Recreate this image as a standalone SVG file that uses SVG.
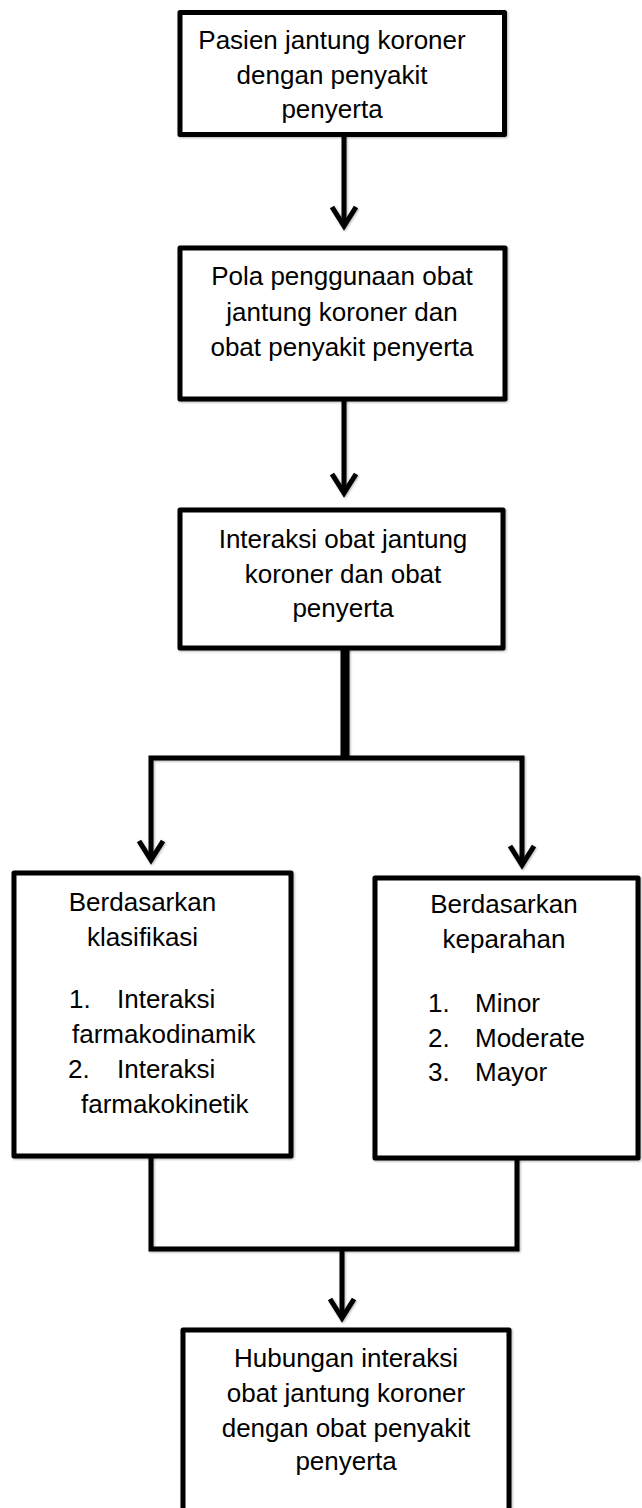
<svg xmlns="http://www.w3.org/2000/svg" width="642" height="1508" viewBox="0 0 642 1508">
  <style>
    .box { fill: #ffffff; stroke: #000000; stroke-width: 5; stroke-linejoin: round; }
    .conn { fill: none; stroke: #000000; stroke-width: 5; stroke-linejoin: miter; }
    .thick { stroke-width: 9; }
    text { font-family: "Liberation Sans", Arial, sans-serif; font-size: 26px; fill: #000000; }
    .c { text-anchor: middle; }
  </style>
  <defs>
    <filter id="sh" x="-10%" y="-10%" width="120%" height="120%">
      <feDropShadow dx="1" dy="1" stdDeviation="1.2" flood-color="#000000" flood-opacity="0.3"/>
    </filter>
    <marker id="chev" markerUnits="userSpaceOnUse" viewBox="-26 -18 34 36" refX="0" refY="0" markerWidth="34" markerHeight="36" orient="auto">
      <path d="M-19,-12 L0,0 L-19,12" fill="none" stroke="#000000" stroke-width="5" stroke-linejoin="miter" stroke-miterlimit="10"/>
    </marker>
  </defs>

  <g id="connectors" filter="url(#sh)">
    <path class="conn" d="M344,136 V226" marker-end="url(#chev)"/>
    <path class="conn" d="M344,399 V493" marker-end="url(#chev)"/>
    <path class="conn thick" d="M345,648 V758"/>
    <path class="conn" d="M151,859 V758 H522 V864"/>
    <path class="conn" d="M151,859 V860" marker-end="url(#chev)"/>
    <path class="conn" d="M522,864 V865" marker-end="url(#chev)"/>
    <path class="conn" d="M151,1156 V1249 H517 V1158"/>
    <path class="conn" d="M342,1249 V1318" marker-end="url(#chev)"/>
  </g>

  <g id="node1">
    <rect class="box" filter="url(#sh)" x="180" y="12.5" width="324.5" height="122"/>
    <text class="c" x="332" y="49">Pasien jantung koroner</text>
    <text class="c" x="332" y="84">dengan penyakit</text>
    <text class="c" x="332" y="118">penyerta</text>
  </g>

  <g id="node2">
    <rect class="box" filter="url(#sh)" x="180" y="248" width="325" height="151"/>
    <text class="c" x="342" y="285">Pola penggunaan obat</text>
    <text class="c" x="342" y="321">jantung koroner dan</text>
    <text class="c" x="342" y="356">obat penyakit penyerta</text>
  </g>

  <g id="node3">
    <rect class="box" filter="url(#sh)" x="180" y="510" width="323" height="138"/>
    <text class="c" x="343" y="548">Interaksi obat jantung</text>
    <text class="c" x="343" y="583">koroner dan obat</text>
    <text class="c" x="343" y="617">penyerta</text>
  </g>

  <g id="node4">
    <rect class="box" filter="url(#sh)" x="14" y="873" width="277" height="283"/>
    <text class="c" x="142.5" y="911">Berdasarkan</text>
    <text class="c" x="142.5" y="946">klasifikasi</text>
    <text x="69" y="1008">1.</text>
    <text x="117" y="1008">Interaksi</text>
    <text x="72" y="1043">farmakodinamik</text>
    <text x="68" y="1078">2.</text>
    <text x="117" y="1078">Interaksi</text>
    <text x="81" y="1113">farmakokinetik</text>
  </g>

  <g id="node5">
    <rect class="box" filter="url(#sh)" x="375" y="878" width="263" height="280"/>
    <text class="c" x="504" y="913">Berdasarkan</text>
    <text class="c" x="504" y="948">keparahan</text>
    <text x="428" y="1012">1.</text>
    <text x="475" y="1012">Minor</text>
    <text x="428" y="1047">2.</text>
    <text x="475" y="1047">Moderate</text>
    <text x="428" y="1081">3.</text>
    <text x="475" y="1081">Mayor</text>
  </g>

  <g id="node6">
    <rect class="box" filter="url(#sh)" x="183" y="1330" width="326" height="200"/>
    <text class="c" x="346" y="1367">Hubungan interaksi</text>
    <text class="c" x="346" y="1402">obat jantung koroner</text>
    <text class="c" x="346" y="1437">dengan obat penyakit</text>
    <text class="c" x="346" y="1470">penyerta</text>
  </g>
</svg>
